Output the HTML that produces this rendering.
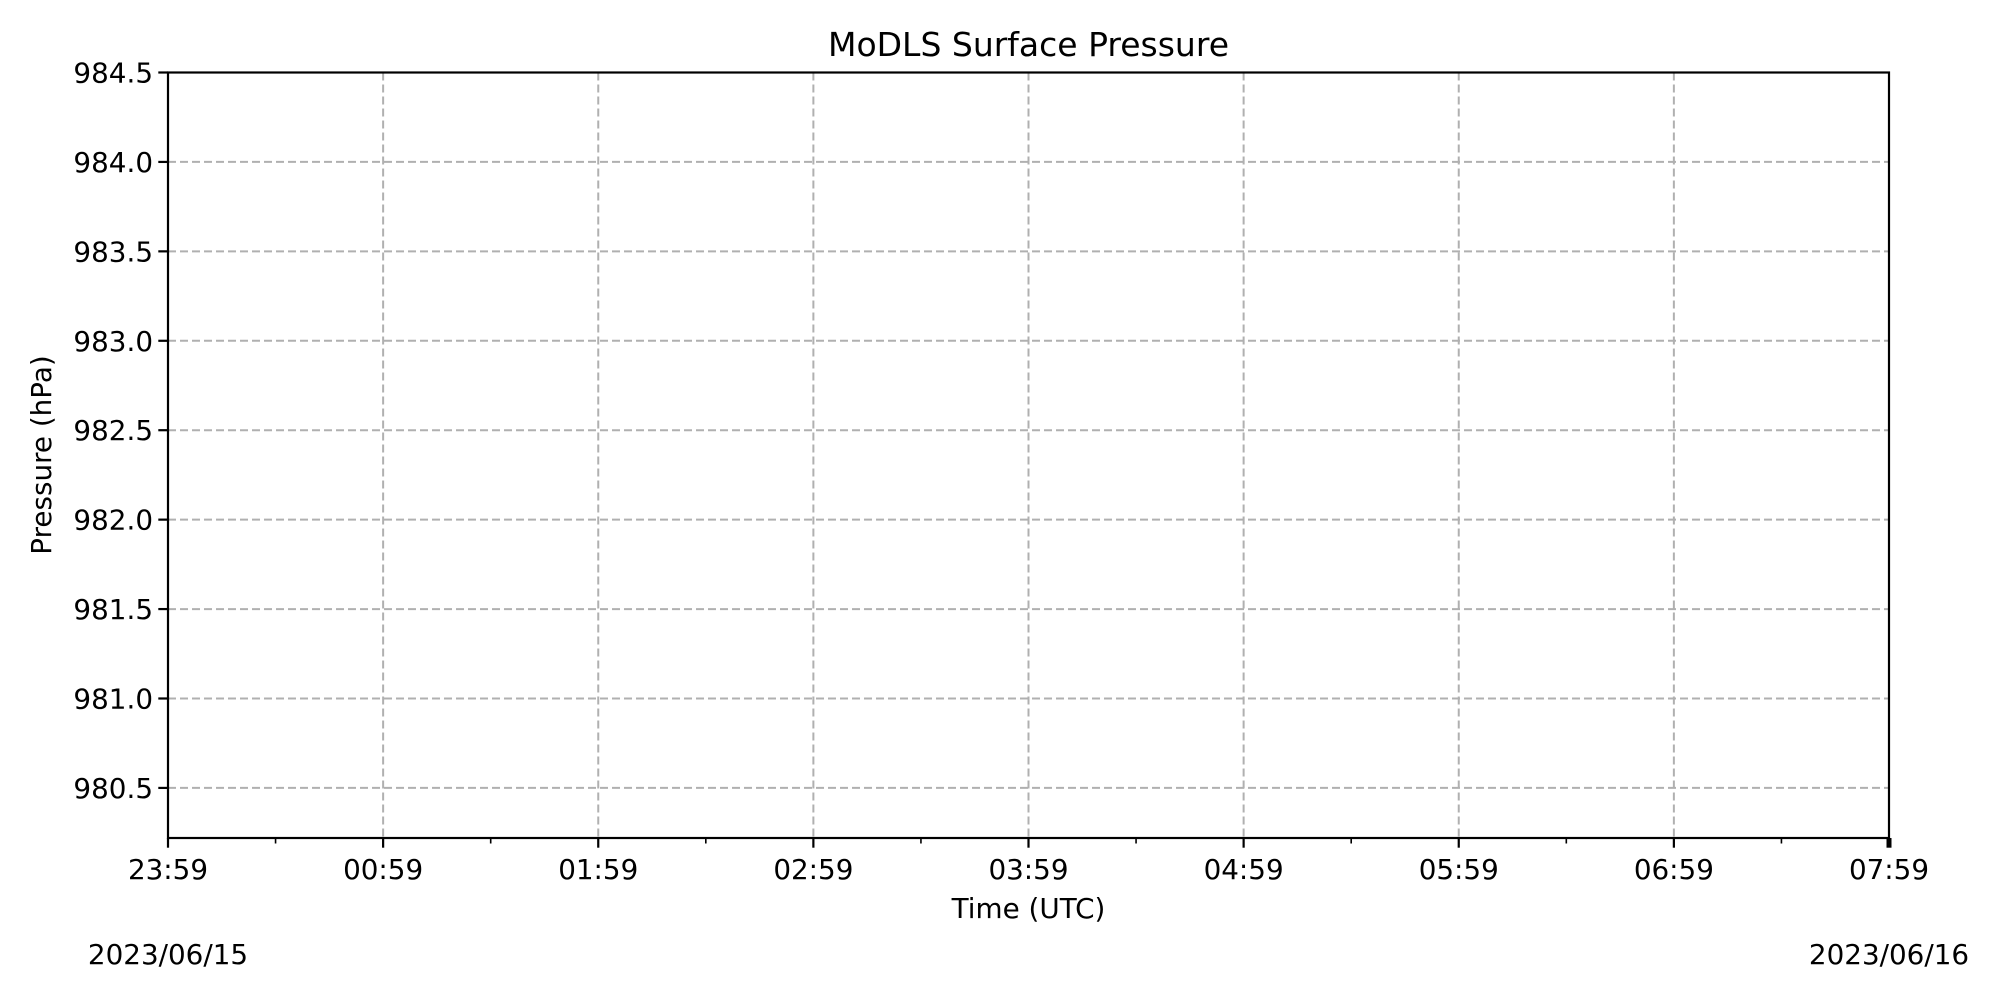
<!DOCTYPE html>
<html><head><meta charset="utf-8"><style>
html,body{margin:0;padding:0;background:#fff;}
svg{display:block;font-family:"DejaVu Sans","Liberation Sans",sans-serif;}
</style></head><body>
<svg id="chart" width="2000" height="1000" viewBox="0 0 2000 1000" xmlns="http://www.w3.org/2000/svg">
<rect width="2000" height="1000" fill="#fff"/>
<text x="1028.5" y="56" font-size="33" text-anchor="middle">MoDLS Surface Pressure</text>
<text transform="translate(51,455) rotate(-90)" font-size="27.8" text-anchor="middle">Pressure (hPa)</text>
<text x="1028.5" y="918" font-size="27.8" text-anchor="middle">Time (UTC)</text>
<text x="168" y="964" font-size="27.8" text-anchor="middle">2023/06/15</text>
<text x="1889" y="964" font-size="27.8" text-anchor="middle">2023/06/16</text>
<g id="grid"></g><g id="ticks"></g>
<rect x="168" y="72.5" width="1721" height="765.5" fill="none" stroke="#000" stroke-width="2.2"/>
</svg>
<script>
const xTickLabels = ["23:59","00:59","01:59","02:59","03:59","04:59","05:59","06:59","07:59"];
const yTicks = [980.5,981.0,981.5,982.0,982.5,983.0,983.5,984.0,984.5];
const yMin = 980.22, yMax = 984.5;
const L=168,R=1889,T=72.5,B=838;
const NS="http://www.w3.org/2000/svg";
const grid=document.getElementById('grid'), ticks=document.getElementById('ticks');
const xPos = i => L + (R-L)*i/(xTickLabels.length-1);
const yPos = v => B - (v-yMin)/(yMax-yMin)*(B-T);
function mk(tag, attrs, parent){const e=document.createElementNS(NS,tag);for(const k in attrs)e.setAttribute(k,attrs[k]);parent.appendChild(e);return e;}
xTickLabels.forEach((lab,i)=>{
  const x=xPos(i);
  const g=mk('line',{x1:x,x2:x,y1:T,y2:B,stroke:i===xTickLabels.length-1?'#777':'#b0b0b0','stroke-width':2,'stroke-dasharray':'8,4'},grid);
  
  
  const t=mk('line',{x1:x,x2:x,y1:B,y2:B+9.7,stroke:'#000','stroke-width':i===xTickLabels.length-1?5:2.2},ticks);
  
  
  const tx=mk('text',{x:x,y:B+41,'font-size':27.8,'text-anchor':'middle'},ticks);
  tx.textContent=lab;
  
  
  if(i<xTickLabels.length-1){
    const mx=x+(R-L)/(xTickLabels.length-1)/2;
    const m=mk('line',{x1:mx,x2:mx,y1:B,y2:B+5.5,stroke:'#000','stroke-width':1.6},ticks);
    
    
  }
});
yTicks.forEach(v=>{
  const y=yPos(v);
  if(v<yMax){
    const g=mk('line',{x1:L,x2:R,y1:y,y2:y,stroke:'#b0b0b0','stroke-width':2,'stroke-dasharray':'8,4'},grid);
    
    
  }
  const t=mk('line',{x1:L-9.7,x2:L,y1:y,y2:y,stroke:'#000','stroke-width':2.2},ticks);
  
  
  const tx=mk('text',{x:L-15,y:y+10,'font-size':27.8,'text-anchor':'end'},ticks);
  tx.textContent=v.toFixed(1);
  
  
});
</script>
</body></html>
